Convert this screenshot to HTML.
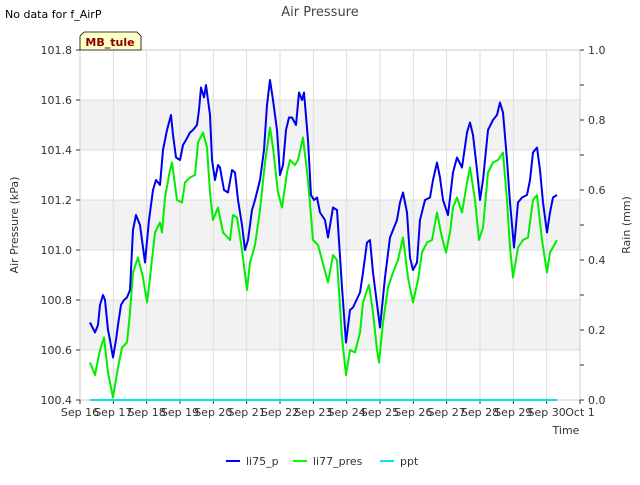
<!DOCTYPE html>
<html><head><meta charset="utf-8"><style>
body{margin:0;background:#fff;font-family:"Liberation Sans","DejaVu Sans",sans-serif;}
svg text{font-family:"DejaVu Sans","Liberation Sans",sans-serif;}
</style></head><body>
<svg id="chart" width="640" height="480" xmlns="http://www.w3.org/2000/svg">
<rect width="640" height="480" fill="#fff"/>
<text x="5" y="18" font-size="11" fill="#000">No data for f_AirP</text>
<text x="320" y="16" font-size="13" fill="#444" text-anchor="middle">Air Pressure</text>
<g id="plot"></g>
<g>
<path d="M80,50 L80,36 L84,32 L137,32 L141,36 L141,50 Z" fill="#ffffc8" stroke="#000" stroke-width="0.8"/>
<text x="110" y="46" font-size="11" font-weight="bold" fill="#8b0000" text-anchor="middle">MB_tule</text>
</g>
<text transform="translate(18,225) rotate(-90)" font-size="11" fill="#333" text-anchor="middle">Air Pressure (kPa)</text>
<text transform="translate(630,225) rotate(-90)" font-size="11" fill="#333" text-anchor="middle">Rain (mm)</text>
<text x="566" y="434" font-size="11" fill="#333" text-anchor="middle">Time</text>
<g>
<g><line x1="226" y1="461" x2="240" y2="461" stroke="#0000ff" stroke-width="2"/><text x="246" y="465" font-size="11" fill="#333">li75_p</text></g>
<g><line x1="293" y1="461" x2="307" y2="461" stroke="#00ff00" stroke-width="2"/><text x="313" y="465" font-size="11" fill="#333">li77_pres</text></g>
<g><line x1="380" y1="461" x2="394" y2="461" stroke="#00e5ee" stroke-width="2"/><text x="400" y="465" font-size="11" fill="#333">ppt</text></g>
</g>
</svg>
<script>
const xTickLabels=["Sep 16","Sep 17","Sep 18","Sep 19","Sep 20","Sep 21","Sep 22","Sep 23","Sep 24","Sep 25","Sep 26","Sep 27","Sep 28","Sep 29","Sep 30","Oct 1"];
const yTicks=[100.4,100.6,100.8,101.0,101.2,101.4,101.6,101.8];
const y2Ticks=[0,0.2,0.4,0.6,0.8,1.0];
const li75Days=[0.30,0.45,0.54,0.60,0.69,0.75,0.84,0.90,0.99,1.08,1.14,1.23,1.32,1.41,1.50,1.59,1.68,1.80,1.95,2.07,2.19,2.28,2.40,2.49,2.61,2.73,2.79,2.88,3.00,3.09,3.18,3.30,3.39,3.51,3.57,3.63,3.72,3.78,3.90,3.96,4.05,4.14,4.20,4.32,4.44,4.56,4.65,4.74,4.86,4.95,5.04,5.16,5.25,5.40,5.52,5.61,5.70,5.79,5.91,6.00,6.09,6.18,6.27,6.36,6.48,6.57,6.66,6.72,6.84,6.93,7.02,7.11,7.20,7.35,7.44,7.59,7.71,7.86,7.98,8.10,8.19,8.40,8.49,8.61,8.70,8.79,9.00,9.15,9.30,9.51,9.60,9.69,9.81,9.90,9.99,10.11,10.20,10.35,10.50,10.59,10.71,10.80,10.89,11.04,11.19,11.31,11.46,11.61,11.70,11.79,11.91,12.00,12.09,12.24,12.39,12.51,12.60,12.69,12.81,12.90,13.02,13.14,13.26,13.41,13.50,13.59,13.71,13.80,13.89,14.01,14.10,14.19,14.31];
const li75Values=[100.71,100.67,100.70,100.78,100.82,100.80,100.68,100.64,100.57,100.64,100.70,100.78,100.80,100.81,100.84,101.08,101.14,101.10,100.95,101.12,101.24,101.28,101.26,101.40,101.48,101.54,101.46,101.37,101.36,101.42,101.44,101.47,101.48,101.50,101.56,101.65,101.61,101.66,101.54,101.36,101.28,101.34,101.33,101.24,101.23,101.32,101.31,101.20,101.10,101.00,101.04,101.16,101.20,101.28,101.40,101.58,101.68,101.60,101.48,101.30,101.34,101.48,101.53,101.53,101.50,101.63,101.60,101.63,101.44,101.22,101.20,101.21,101.15,101.12,101.05,101.17,101.16,100.85,100.63,100.76,100.77,100.83,100.91,101.03,101.04,100.91,100.69,100.89,101.05,101.12,101.19,101.23,101.15,100.97,100.92,100.95,101.12,101.20,101.21,101.28,101.35,101.29,101.20,101.14,101.31,101.37,101.33,101.47,101.51,101.46,101.32,101.20,101.28,101.48,101.52,101.54,101.59,101.55,101.36,101.19,101.01,101.19,101.21,101.22,101.28,101.39,101.41,101.32,101.19,101.07,101.15,101.21,101.22];
const li77Days=[0.30,0.45,0.60,0.72,0.84,0.99,1.14,1.26,1.41,1.50,1.59,1.74,1.89,2.01,2.10,2.25,2.40,2.46,2.55,2.70,2.76,2.91,3.06,3.15,3.30,3.45,3.54,3.69,3.81,3.90,3.99,4.14,4.29,4.50,4.59,4.71,4.86,5.01,5.10,5.25,5.40,5.55,5.70,5.79,5.94,6.06,6.21,6.30,6.45,6.54,6.69,6.84,6.99,7.14,7.26,7.44,7.59,7.71,7.86,7.98,8.10,8.25,8.40,8.49,8.61,8.67,8.79,8.91,8.97,9.09,9.24,9.39,9.54,9.69,9.84,9.99,10.14,10.26,10.41,10.56,10.71,10.86,10.98,11.10,11.19,11.31,11.46,11.61,11.70,11.85,11.97,12.09,12.24,12.39,12.54,12.69,12.81,12.90,12.99,13.14,13.29,13.44,13.59,13.71,13.86,14.01,14.10,14.31];
const li77Values=[100.55,100.50,100.60,100.65,100.51,100.41,100.53,100.61,100.63,100.75,100.91,100.97,100.89,100.79,100.89,101.07,101.11,101.07,101.21,101.32,101.35,101.20,101.19,101.27,101.29,101.30,101.43,101.47,101.41,101.23,101.12,101.17,101.07,101.04,101.14,101.13,101.00,100.84,100.95,101.02,101.16,101.35,101.49,101.41,101.23,101.17,101.31,101.36,101.34,101.36,101.45,101.28,101.04,101.02,100.96,100.87,100.98,100.96,100.65,100.50,100.60,100.59,100.67,100.79,100.84,100.86,100.75,100.60,100.55,100.71,100.85,100.91,100.96,101.05,100.89,100.79,100.88,100.99,101.03,101.04,101.15,101.05,100.99,101.07,101.17,101.21,101.15,101.27,101.33,101.20,101.04,101.09,101.31,101.35,101.36,101.39,101.20,101.01,100.89,101.01,101.04,101.05,101.20,101.22,101.04,100.91,100.99,101.04];
const pptDays=[0.30,14.31];
const pptValues=[0,0];

const L=80,R=580,T=50,B=400;
const xs=d=>L+d*(R-L)/15;
const ys=v=>B-(v-100.4)*(B-T)/1.4;
const ys2=v=>B-v*(B-T)/1.0;
const NS="http://www.w3.org/2000/svg";
const plot=document.getElementById('plot');
function mk(tag,attrs,parent){const e=document.createElementNS(NS,tag);for(const k in attrs)e.setAttribute(k,attrs[k]);(parent||plot).appendChild(e);return e;}
for(let i=0;i<yTicks.length-1;i++){
  if(i%2===1){const b=mk('rect',{x:L,y:ys(yTicks[i+1]),width:R-L,height:ys(yTicks[i])-ys(yTicks[i+1]),fill:'#f2f2f2'});
  
  }
}
yTicks.forEach(v=>{const g=mk('line',{x1:L,x2:R,y1:ys(v),y2:ys(v),stroke:'#dcdcdc','stroke-width':1});

});
xTickLabels.forEach((t,i)=>{const g=mk('line',{x1:xs(i),x2:xs(i),y1:T,y2:B,stroke:'#dcdcdc','stroke-width':1});

});
mk('rect',{x:L,y:T,width:R-L,height:B-T,fill:'none',stroke:'#ccc','stroke-width':1});
yTicks.forEach(v=>{mk('line',{x1:L-4,x2:L,y1:ys(v),y2:ys(v),stroke:'#333'});
const t=mk('text',{x:L-8,y:ys(v)+4,'font-size':11,fill:'#333','text-anchor':'end'});t.textContent=v.toFixed(1);

});
for(let k=0;k<=10;k++){const v=k/10;mk('line',{x1:R,x2:R+4,y1:ys2(v),y2:ys2(v),stroke:'#333'});}
y2Ticks.forEach(v=>{const t=mk('text',{x:R+8,y:ys2(v)+4,'font-size':11,fill:'#333'});t.textContent=v.toFixed(1);

});
xTickLabels.forEach((s,i)=>{mk('line',{x1:xs(i),x2:xs(i),y1:B,y2:B+4,stroke:'#333'});
const t=mk('text',{x:xs(i),y:B+16,'font-size':11,fill:'#333','text-anchor':'middle'});t.textContent=s;

});
function series(days,vals,sc,color,name){
  const d=days.map((x,i)=>(i?'L':'M')+xs(x).toFixed(1)+','+sc(vals[i]).toFixed(1)).join(' ');
  const p=mk('path',{d:d,fill:'none',stroke:color,'stroke-width':2,'stroke-linejoin':'round'});
  
  
}
series(pptDays,pptValues,ys2,'#00e5ee','ppt-line');
series(li77Days,li77Values,ys,'#00ee00','li77-pres-line');
series(li75Days,li75Values,ys,'#0000ee','li75-p-line');
</script>
</body></html>
